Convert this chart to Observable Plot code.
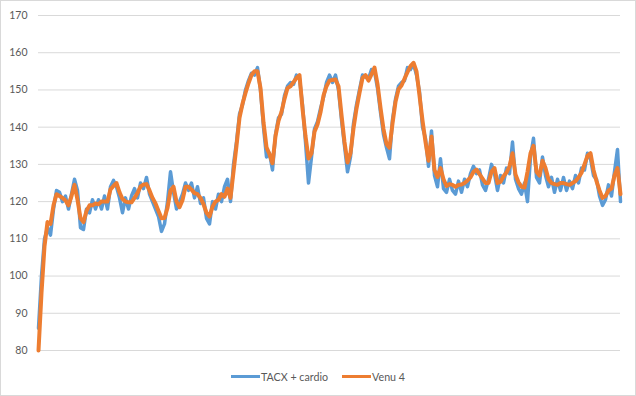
<!DOCTYPE html>
<html><head><meta charset="utf-8">
<script src="https://cdn.jsdelivr.net/npm/d3@7"></script>
<script src="https://cdn.jsdelivr.net/npm/@observablehq/plot@0.6"></script>
<style>
body{margin:0;background:#fff;}
#chart{position:relative;width:636px;height:396px;border:1px solid #d9d9d9;box-sizing:border-box;font-family:Lato,"Open Sans",sans-serif;overflow:hidden;background:#fff}
#legend{position:absolute;left:0;right:0;top:368px;height:15px;display:flex;justify-content:center;align-items:center;font-size:10.7px;color:#595959}
.item{display:flex;align-items:center;margin:0 7px}
.sw{display:inline-block;width:29px;height:3px;margin-right:1px}
</style></head>
<body>
<div id="chart"><div id="plot"></div><div id="legend"></div></div>
<script>
const seriesNames = ["TACX + cardio", "Venu 4"];
const seriesColors = ["#5B9BD5", "#ED7D31"];
const yTicks = [80, 90, 100, 110, 120, 130, 140, 150, 160, 170];

const tacx = [86,100,110,113,111,118,123,122.5,120,121.5,118,122,126,123,113,112.5,118,117,120.5,118,
120.5,118,121.5,118,124,125.7,124,121,117,121,118,121.5,123.5,121,125,123.5,126.5,122,120,118,
116,112,114,120,128,122.5,118,120,122,125,123,125,121,124,119.5,121,115.5,114,120,118,
122,120,124,126,120,130,136,143.5,146,150,152.5,154.5,154,156,150,140,132,133,128.5,138,
142.5,143.5,148.5,151,152,151.5,154,153,146,136,125,132,139.5,141.5,145,148,152,154,152,154,
150,142,135,128,132,141,146,150,154,153.5,153,155.5,155,150.5,144,138,134.5,131.5,142,147.5,
151,152,152.5,156,155.5,157,154,149.5,140,137,129.5,139,127,124,131.5,123.5,122.5,126,123,122,
125.5,122.5,126,124,127.5,129.5,127.5,128.5,124.5,123,126,130,127.5,123,127,125,129,127.5,136,126,
123.5,122,125,120,132,137,126.5,125,132,127,124,126.5,122.5,126,123,126.5,123,125.5,123.5,127,
125,129,128.5,133,131.5,127,126,121.5,119,120.5,124.5,121.5,128,134,120];

const venu = [80,95.5,108,114.5,114,119,122,121.5,121,120.3,119,121.5,124.5,120.5,115.5,114.5,117.5,119,119,119.5,
119.3,120,120,120,123.3,124.2,125,122.5,120.7,120,119.8,119.8,121,122.3,124,124.6,124.7,123,121,119.5,
117.5,115.5,115.6,118.3,123,124,120,118.5,120.4,124,124,123.2,122.3,122,121,119.3,117,116,118.6,120,
120.5,122,121.3,123.5,121,128,135,142.5,146.3,149.2,151.8,154,155,155,150.5,141.3,134.6,132.7,130.3,137.6,
141.7,144.1,147.6,150.5,151,152.1,153.2,154,145,137.6,131.6,133,138.8,140.7,144,148.5,151,152.5,152.7,152.8,
151,143.3,136,130.5,133,139.7,145,149.2,153.2,154,152.5,154.2,156,151.6,145.2,139.5,135.5,134.5,141,146.8,
150.2,151.2,153,154.8,156.4,157.3,155,148.5,141.8,136,131,137.5,128.5,126.6,129,126,124.2,124.7,124.5,124,
124.5,124.6,125,125.7,126.5,128,128.6,127.4,126.2,125,125,128,129,125,125.3,126.8,127.8,129.5,133,127.3,
125.2,124,123.8,128,133,135,128,127,131,129,126,125,124.7,124.5,125,125,124.7,124.5,125,125.5,
126.5,127.7,130,132.3,133,128.5,125.5,123,121,121.5,123,123.5,127,129,122];

const n = tacx.length;

const chart = Plot.plot({
  width: 634,
  height: 362,
  marginTop: 14,
  marginBottom: 13,
  marginLeft: 37,
  marginRight: 15,
  style: {fontFamily: "Lato, 'Open Sans', sans-serif", fontSize: "10.5px", color: "#595959", background: "transparent"},
  x: {domain: [0, n - 1], axis: null},
  y: {domain: [80, 170], axis: null},
  marks: [
    Plot.gridY(yTicks, {stroke: "#d9d9d9", strokeOpacity: 1, strokeWidth: 1}),
    Plot.axisY(yTicks, {tickSize: 0, tickPadding: 11, fill: "#595959"}),
    Plot.lineY(tacx, {x: (d, i) => i, y: d => d, stroke: seriesColors[0], strokeWidth: 3.5}),
    Plot.lineY(venu, {x: (d, i) => i, y: d => d, stroke: seriesColors[1], strokeWidth: 4})
  ]
});
document.getElementById("plot").appendChild(chart);

const legend = document.getElementById("legend");
seriesNames.forEach((name, k) => {
  const it = document.createElement("div");
  it.className = "item";
  const sw = document.createElement("span");
  sw.className = "sw";
  sw.style.background = seriesColors[k];
  const tx = document.createElement("span");
  tx.textContent = name;
  it.appendChild(sw);
  it.appendChild(tx);
  legend.appendChild(it);
});
</script>
</body></html>
